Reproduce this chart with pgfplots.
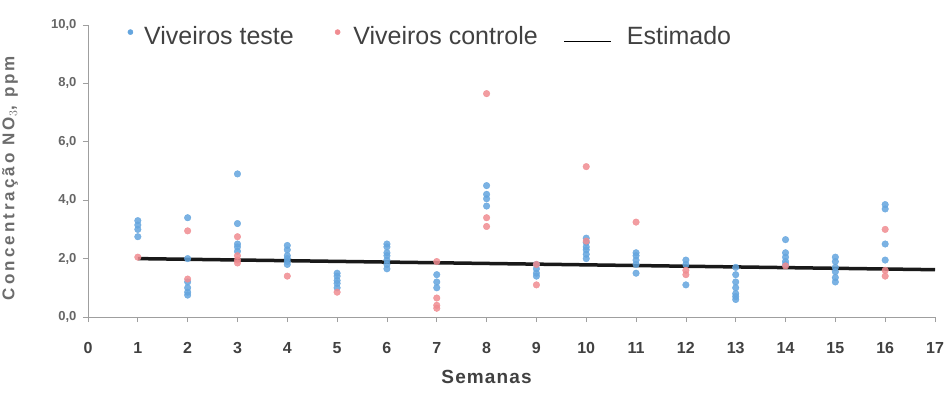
\documentclass[border=0pt]{standalone}
\usepackage{pgfplots}
\pgfplotsset{compat=1.18}
\usepackage{fontspec}
\setmainfont{Liberation Sans}
\definecolor{teste}{RGB}{100,165,222}
\definecolor{controle}{RGB}{240,140,145}
\definecolor{lbl}{RGB}{65,65,65}
\begin{document}
\begin{tikzpicture}[x=1pt,y=1pt]
\useasboundingbox (-88,-77) rectangle (856,317);
\begin{axis}[at={(0,0)}, anchor=south west, scale only axis,
  width=847pt, height=292pt,
  xmin=0, xmax=17, ymin=0, ymax=10,
  axis lines=left, axis line style={-, gray!75, line width=0.8pt},
  xtick={0,...,17}, ytick={0,2,...,10},
  tick align=outside, major tick length=5pt,
  tick style={gray!75, line width=0.7pt},
  /pgf/number format/assume math mode=true,
  yticklabel style={/pgf/number format/.cd, fixed, fixed zerofill, precision=1, use comma,
    /tikz/.cd, font=\fontsize{13}{13}\selectfont\bfseries, text=gray!80!black, xshift=-3pt},
  xticklabel style={font=\fontsize{16}{16}\selectfont\bfseries, text=lbl, yshift=-17pt},
  xlabel={Semanas},
  xlabel style={at={(axis description cs:0.4706,-0.205)}, anchor=center, font=\fontsize{19}{19}\selectfont\bfseries\addfontfeature{LetterSpace=6}, text=lbl},
  ylabel={Concentração NO$_3$, ppm},
  ylabel style={at={(axis description cs:-0.092,0.476)}, anchor=center, font=\fontsize{17}{17}\selectfont\bfseries\addfontfeature{LetterSpace=18}, text=gray!85!black},
  legend style={at={(axis description cs:0.043,1.01)}, anchor=north west, draw=none, fill=none,
    font=\fontsize{25}{27}\selectfont, text=lbl, legend columns=3,
    /tikz/column 1/.style={column sep=9pt},
    /tikz/column 2/.style={column sep=39pt},
    /tikz/column 3/.style={column sep=11pt},
    /tikz/column 4/.style={column sep=24pt},
    /tikz/column 5/.style={column sep=13pt}},
  clip=false,
]
\addplot[black!90, line width=3.5pt, forget plot] coordinates {(1,2.0) (17,1.62)};
\addplot[only marks, mark=*, mark size=3.3pt, mark options={draw=teste, fill=teste, fill opacity=0.85, draw opacity=0.85},
  legend image code/.code={\fill[teste] (0.25cm,0.14cm) circle (2.6pt);}] coordinates {
(1,3.3)(1,3.15)(1,3.0)(1,2.75)
(2,3.4)(2,2.0)(2,1.2)(2,1.0)(2,0.85)(2,0.75)
(3,4.9)(3,3.2)(3,2.5)(3,2.4)(3,2.25)
(4,2.45)(4,2.3)(4,2.1)(4,2.0)(4,1.9)(4,1.8)
(5,1.5)(5,1.4)(5,1.25)(5,1.15)(5,1.0)
(6,2.5)(6,2.4)(6,2.2)(6,2.1)(6,1.95)(6,1.8)(6,1.65)
(7,1.45)(7,1.2)(7,1.0)
(8,4.5)(8,4.2)(8,4.05)(8,3.8)
(9,1.8)(9,1.65)(9,1.5)(9,1.4)
(10,2.7)(10,2.55)(10,2.4)(10,2.3)(10,2.15)(10,2.0)
(11,2.2)(11,2.1)(11,1.95)(11,1.8)(11,1.5)
(12,1.95)(12,1.8)(12,1.1)
(13,1.7)(13,1.45)(13,1.2)(13,1.0)(13,0.8)(13,0.7)(13,0.6)
(14,2.65)(14,2.2)(14,2.05)(14,1.9)(14,1.8)
(15,2.05)(15,1.9)(15,1.7)(15,1.55)(15,1.35)(15,1.2)
(16,3.85)(16,3.7)(16,2.5)(16,1.95)
};
\addlegendentry{Viveiros teste}
\addplot[only marks, mark=*, mark size=3.3pt, mark options={draw=controle, fill=controle, fill opacity=0.85, draw opacity=0.85},
  legend image code/.code={\fill[controle] (0.25cm,0.14cm) circle (2.6pt);}] coordinates {
(1,2.05)
(2,2.95)(2,1.3)
(3,2.75)(3,2.1)(3,1.95)(3,1.85)
(4,1.4)
(5,0.85)
(7,1.9)(7,0.65)(7,0.4)(7,0.3)
(8,7.65)(8,3.4)(8,3.1)
(9,1.8)(9,1.1)
(10,5.15)(10,2.6)
(11,3.25)
(12,1.6)(12,1.45)
(14,1.75)
(16,3.0)(16,1.6)(16,1.4)
};
\addlegendentry{Viveiros controle}
\addlegendimage{legend image code/.code={\draw[black, line width=1.2pt] (0cm,-0.2cm) -- (1.65cm,-0.2cm);}}
\addlegendentry{Estimado}
\end{axis}
\end{tikzpicture}
\end{document}
